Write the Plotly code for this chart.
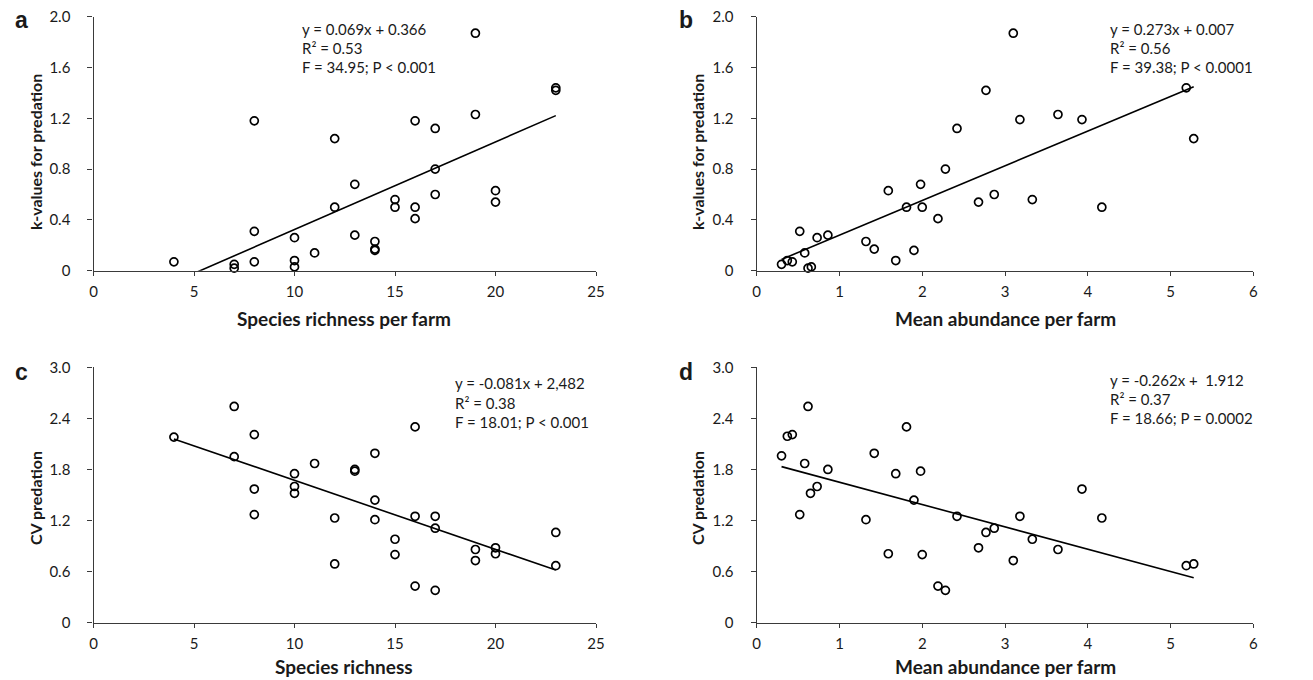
import numpy as np
import plotly.graph_objects as go

# ---------------- data ----------------
# Panel a: species richness vs k-values
a_x = [4, 7, 7, 8, 8, 8, 10, 10, 10, 11, 12, 12, 13, 13, 14, 14, 14, 15, 15,
       16, 16, 16, 17, 17, 17, 19, 19, 20, 20, 23, 23]
a_y = [0.07, 0.05, 0.02, 1.18, 0.31, 0.07, 0.26, 0.08, 0.03, 0.14, 1.04, 0.50,
       0.68, 0.28, 0.23, 0.17, 0.16, 0.56, 0.50, 1.18, 0.50, 0.41, 1.12, 0.80,
       0.60, 1.87, 1.23, 0.63, 0.54, 1.44, 1.42]

# Panel b: mean abundance vs k-values
b_x = [0.30, 0.37, 0.43, 0.52, 0.58, 0.62, 0.66, 0.73, 0.86, 1.32, 1.42, 1.59,
       1.68, 1.81, 1.90, 1.98, 2.00, 2.19, 2.28, 2.42, 2.68, 2.77, 2.87, 3.10,
       3.18, 3.33, 3.64, 3.93, 4.17, 5.19, 5.28]
b_y = [0.05, 0.08, 0.07, 0.31, 0.14, 0.02, 0.03, 0.26, 0.28, 0.23, 0.17, 0.63,
       0.08, 0.50, 0.16, 0.68, 0.50, 0.41, 0.80, 1.12, 0.54, 1.42, 0.60, 1.87,
       1.19, 0.56, 1.23, 1.19, 0.50, 1.44, 1.04]

# Panel c: species richness vs CV predation
c_x = [4, 7, 7, 8, 8, 8, 10, 10, 10, 11, 12, 12, 13, 13, 14, 14, 14, 15, 15,
       16, 16, 16, 17, 17, 17, 19, 19, 20, 20, 23, 23]
c_y = [2.18, 2.54, 1.95, 2.21, 1.57, 1.27, 1.75, 1.60, 1.52, 1.87, 1.23, 0.69,
       1.80, 1.78, 1.99, 1.44, 1.21, 0.98, 0.80, 2.30, 1.25, 0.43, 1.25, 1.11,
       0.38, 0.86, 0.73, 0.88, 0.81, 1.06, 0.67]

# Panel d: mean abundance vs CV predation
d_x = [0.30, 0.37, 0.43, 0.52, 0.58, 0.62, 0.65, 0.73, 0.86, 1.32, 1.42, 1.59,
       1.68, 1.81, 1.90, 1.98, 2.00, 2.19, 2.28, 2.42, 2.68, 2.77, 2.87, 3.10,
       3.18, 3.33, 3.64, 3.93, 4.17, 5.19, 5.28]
d_y = [1.96, 2.19, 2.21, 1.27, 1.87, 2.54, 1.52, 1.60, 1.80, 1.21, 1.99, 0.81,
       1.75, 2.30, 1.44, 1.78, 0.80, 0.43, 0.38, 1.25, 0.88, 1.06, 1.11, 0.73,
       1.25, 0.98, 0.86, 1.57, 1.23, 0.67, 0.69]

# regression lines as drawn (slope, intercept)
fit_a = (0.069, -0.366)
fit_b = (0.273, 0.007)
fit_c = (-0.081, 2.482)
fit_d = (-0.262, 1.912)

eq_a = ["y = 0.069x + 0.366", "R\u00b2 = 0.53", "F = 34.95; P < 0.001"]
eq_b = ["y = 0.273x + 0.007", "R\u00b2 = 0.56", "F = 39.38; P < 0.0001"]
eq_c = ["y = -0.081x + 2,482", "R\u00b2 = 0.38", "F = 18.01; P < 0.001"]
eq_d = ["y = -0.262x +  1.912", "R\u00b2 = 0.37", "F = 18.66; P = 0.0002"]

k_ticks = [0, 0.4, 0.8, 1.2, 1.6, 2.0]
k_ticktext = ["0", "0.4", "0.8", "1.2", "1.6", "2.0"]
cv_ticks = [0, 0.6, 1.2, 1.8, 2.4, 3.0]
cv_ticktext = ["0", "0.6", "1.2", "1.8", "2.4", "3.0"]
rich_ticks = [0, 5, 10, 15, 20, 25]
abund_ticks = [0, 1, 2, 3, 4, 5, 6]

# ---------------- figure ----------------
# page body has an 8px margin -> figure starts 8px in; size it to reach the window edge
OFF = 8
W, H = 1313 - OFF, 680 - OFF
FONT = "Lato"
TXT = "#1a1a1a"
AX = "#3a3a3a"

fig = go.Figure()

panels = [
    ("x", "y", a_x, a_y, fit_a),
    ("x2", "y2", b_x, b_y, fit_b),
    ("x3", "y3", c_x, c_y, fit_c),
    ("x4", "y4", d_x, d_y, fit_d),
]
for xa, ya, xs, ys, (m, q) in panels:
    lx = np.array([min(xs), max(xs)])
    fig.add_trace(go.Scatter(x=lx, y=m * lx + q, mode="lines", xaxis=xa, yaxis=ya,
                             line=dict(color="black", width=1.6), showlegend=False,
                             hoverinfo="skip"))
    fig.add_trace(go.Scatter(x=xs, y=ys, mode="markers", xaxis=xa, yaxis=ya,
                             marker=dict(symbol="circle-open", size=8,
                                         color="black", line=dict(width=1.7)),
                             cliponaxis=False, showlegend=False))

def px_x(p):
    return (p - OFF) / W

def px_y(p):
    return 1 - (p - OFF) / H

xd_left = [px_x(93.5), px_x(596)]
xd_right = [px_x(756.7), px_x(1253.3)]
yd_top = [px_y(270.7), px_y(16.7)]
yd_bot = [px_y(622.7), px_y(367.3)]

def xaxis(dom, ticks, rng, anchor):
    return dict(domain=dom, range=rng, tickvals=ticks, ticktext=[str(t) for t in ticks],
                showline=True, linecolor=AX, linewidth=1.3, ticks="outside",
                ticklen=4, tickcolor=AX, tickwidth=1.3, showgrid=False,
                zeroline=False, anchor=anchor, fixedrange=True, automargin=False,
                ticklabelstandoff=3, ticklabeloverflow="allow",
                tickfont=dict(family=FONT, size=15, color=TXT))

def yaxis(dom, ticks, ttext, rng, anchor):
    return dict(domain=dom, range=rng, tickvals=ticks, ticktext=ttext,
                showline=True, linecolor=AX, linewidth=1.3, ticks="outside",
                ticklen=5, tickcolor=AX, tickwidth=1.3, showgrid=False,
                zeroline=False, anchor=anchor, fixedrange=True, automargin=False,
                ticklabelstandoff=14, ticklabeloverflow="allow",
                tickfont=dict(family=FONT, size=15, color=TXT))

fig.update_layout(
    width=W, height=H,
    margin=dict(l=0, r=0, t=0, b=0, pad=0),
    paper_bgcolor="white", plot_bgcolor="white",
    xaxis=xaxis(xd_left, rich_ticks, [0, 25], "y"),
    yaxis=yaxis(yd_top, k_ticks, k_ticktext, [0, 2.0], "x"),
    xaxis2=xaxis(xd_right, abund_ticks, [0, 6], "y2"),
    yaxis2=yaxis(yd_top, k_ticks, k_ticktext, [0, 2.0], "x2"),
    xaxis3=xaxis(xd_left, rich_ticks, [0, 25], "y3"),
    yaxis3=yaxis(yd_bot, cv_ticks, cv_ticktext, [0, 3.0], "x3"),
    xaxis4=xaxis(xd_right, abund_ticks, [0, 6], "y4"),
    yaxis4=yaxis(yd_bot, cv_ticks, cv_ticktext, [0, 3.0], "x4"),
)

ann = []

def text(x, y, s, size=15, bold=False, xanchor="left", angle=0, family=FONT):
    ann.append(dict(x=px_x(x), y=px_y(y), xref="paper", yref="paper", text=s,
                    showarrow=False, xanchor=xanchor, yanchor="middle",
                    textangle=angle,
                    font=dict(family=family, size=size, color=TXT,
                              weight="bold" if bold else "normal")))

# panel letters
for lx, ly, s in [(21, 20, "a"), (686, 20, "b"), (21, 372, "c"), (686, 372, "d")]:
    text(lx, ly, s, size=23, bold=True, xanchor="center", family="Liberation Sans")

# equations
for x0, ys, lines in [(300, [29, 48, 67], eq_a), (1108, [29, 48, 67], eq_b),
                      (453, [383, 403, 422], eq_c), (1108, [380, 399, 418], eq_d)]:
    for yy, s in zip(ys, lines):
        text(x0, yy, s, size=15)

# axis titles
text(344, 318, "Species richness per farm", size=19, bold=True, xanchor="center")
text(1005, 318, "Mean abundance per farm", size=19, bold=True, xanchor="center")
text(344, 666, "Species richness", size=19, bold=True, xanchor="center")
text(1005, 666, "Mean abundance per farm", size=19, bold=True, xanchor="center")
text(35, 152, "k-values for predation", size=16, bold=True, xanchor="center", angle=-90)
text(697, 152, "k-values for predation", size=16, bold=True, xanchor="center", angle=-90)
text(35, 498, "CV predation", size=16, bold=True, xanchor="center", angle=-90)
text(697, 498, "CV predation", size=16, bold=True, xanchor="center", angle=-90)

fig.update_layout(annotations=ann)
fig.write_html("out.html")
